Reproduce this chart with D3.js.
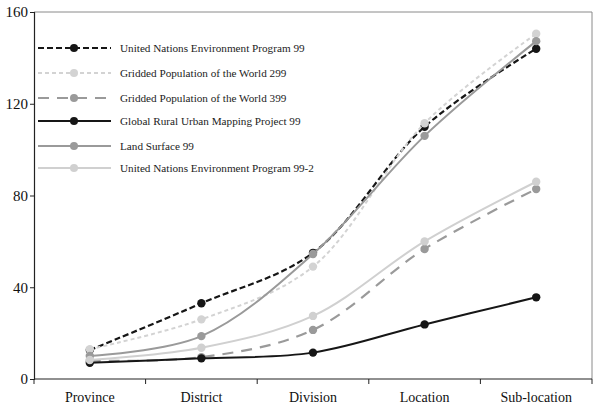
<!DOCTYPE html>
<html><head><meta charset="utf-8">
<script src="https://cdn.jsdelivr.net/npm/d3@7"></script>
<style>body{margin:0;background:#fff}svg{display:block}text{font-family:"Liberation Serif","Times New Roman",serif}</style>
</head><body>
<svg id="c" width="600" height="410"></svg>
<script>
const categories = ["Province","District","Division","Location","Sub-location"];
const seriesNames = ["United Nations Environment Program 99","Gridded Population of the World 299","Gridded Population of the World 399","Global Rural Urban Mapping Project 99","Land Surface 99","United Nations Environment Program 99-2"];
const unep99 = [12.6, 33, 55, 110, 144];
const gpw299 = [13, 26, 49, 111.5, 150.5];
const gpw399 = [8, 9.5, 21.4, 56.7, 82.8];
const grump99 = [7.1, 9, 11.5, 23.8, 35.6];
const land99 = [10, 18.7, 54.5, 106, 147.3];
const unep992 = [8.3, 13.6, 27.5, 60, 86];
const yTicks = [0, 40, 80, 120, 160];

const seriesValues = [unep99, gpw299, gpw399, grump99, land99, unep992];
const styles = [
  {color:"#161616", dash:"6,3", width:2.2},
  {color:"#d3d3d3", dash:"4,3", width:2},
  {color:"#9a9a9a", dash:"11,8", width:2.2},
  {color:"#161616", dash:null, width:2},
  {color:"#9a9a9a", dash:null, width:2},
  {color:"#d0d0d0", dash:null, width:2}
];

const svg = d3.select("#c");
const L = 34, R = 592, T = 12, B = 379;
const x = d3.scaleBand().domain(categories).range([L, R]);
const y = d3.scaleLinear().domain([0, 160]).range([B, T]);

svg.append("path").attr("d", `M${L},${T}H${R}V${B}`).attr("fill","none").attr("stroke","#8a8a8a").attr("stroke-width",1);

const ya = svg.append("g").attr("transform",`translate(${L},0)`)
  .call(d3.axisLeft(y).tickValues(yTicks).tickSize(4).tickPadding(2).tickFormat(d3.format("d")));
ya.select(".domain").attr("stroke","#222").attr("stroke-width",1.2);
ya.selectAll(".tick line").attr("stroke","#222");
ya.selectAll("text").attr("font-size",15).attr("fill","#111").attr("font-family",'"Liberation Serif",serif');

const xa = svg.append("g").attr("transform",`translate(0,${B})`);
xa.append("line").attr("x1",L).attr("x2",R).attr("stroke","#222").attr("stroke-width",1.2);
const bounds = categories.map(c => x(c)).concat([R]);
xa.selectAll("line.tk").data(bounds).join("line").attr("class","tk")
  .attr("x1",d=>d).attr("x2",d=>d).attr("y1",0).attr("y2",5).attr("stroke","#222");
xa.selectAll("text").data(categories).join("text")
  .attr("x", d => x(d) + x.bandwidth()/2).attr("y", 23)
  .attr("text-anchor","middle").attr("font-size",14).attr("fill","#111").text(d=>d);

const cx = d => x(d) + x.bandwidth()/2;
const line = d3.line().x((d,i)=>cx(categories[i])).y(d=>y(d)).curve(d3.curveCatmullRom.alpha(0.5));
seriesValues.forEach((vals, s) => {
  const st = styles[s];
  const g = svg.append("g");
  g.append("path").datum(vals).attr("d", line).attr("fill","none")
    .attr("stroke", st.color).attr("stroke-width", st.width)
    .attr("stroke-dasharray", st.dash);
  g.selectAll("circle").data(vals).join("circle")
    .attr("cx",(d,i)=>cx(categories[i])).attr("cy",d=>y(d)).attr("r",4.2).attr("fill",st.color);
});

const legY = [48, 73, 98, 121, 146, 168];
seriesNames.forEach((name, s) => {
  const st = styles[s];
  const g = svg.append("g").attr("transform",`translate(0,${legY[s]})`);
  g.append("line").attr("x1",38).attr("x2",111).attr("stroke",st.color).attr("stroke-width",st.width)
    .attr("stroke-dasharray", st.dash);
  g.append("circle").attr("cx",74).attr("cy",0).attr("r",4).attr("fill",st.color);
  g.append("text").attr("x",120).attr("y",4).attr("font-size",11.2).attr("fill","#222").text(name);
});
</script>
</body></html>
